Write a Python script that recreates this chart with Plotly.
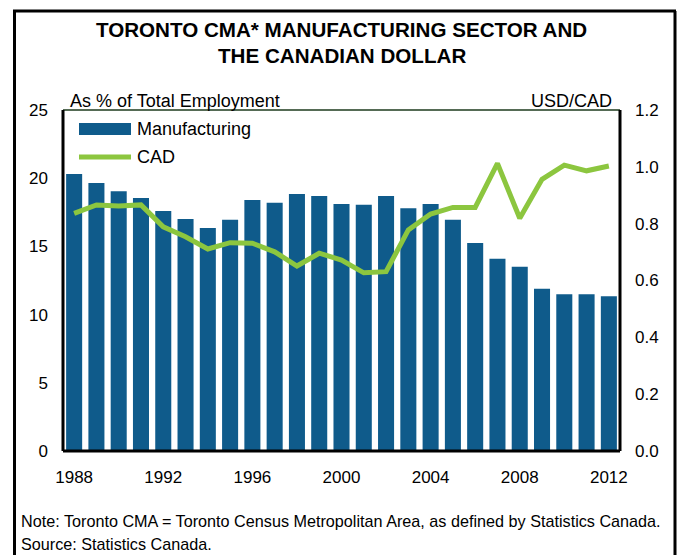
import plotly.graph_objects as go

# Annual data, Toronto CMA
years = list(range(1988, 2013))
manufacturing_share = [20.3, 19.65, 19.05, 18.55, 17.6, 17.0, 16.35, 16.95, 18.4, 18.2,
                       18.85, 18.7, 18.1, 18.05, 18.7, 17.8, 18.1, 16.95, 15.25, 14.1,
                       13.5, 11.9, 11.5, 11.5, 11.35]
usd_per_cad = [0.836, 0.866, 0.862, 0.866, 0.789, 0.754, 0.711, 0.733, 0.731, 0.701,
               0.651, 0.696, 0.672, 0.627, 0.631, 0.778, 0.834, 0.857, 0.857, 1.012,
               0.819, 0.956, 1.006, 0.986, 1.003]

left_ticks = [0, 5, 10, 15, 20, 25]
right_ticks = [0.0, 0.2, 0.4, 0.6, 0.8, 1.0, 1.2]
year_ticks = [1988, 1992, 1996, 2000, 2004, 2008, 2012]

BAR_BLUE = "#0f5b8b"
CAD_GREEN = "#8cc63f"
FONT = "Liberation Sans, Arial, sans-serif"

W, H = 683, 555
L, R, T, B = 63, 620, 110, 451  # plot area in pixels


def px(x):
    return (x - L) / (R - L)


def py(y):
    return (B - y) / (B - T)


fig = go.Figure()
fig.add_trace(go.Bar(x=years, y=manufacturing_share, marker_color=BAR_BLUE,
                     marker_line_width=0, width=0.72, name="Manufacturing",
                     showlegend=False))
fig.add_trace(go.Scatter(x=years, y=usd_per_cad, yaxis="y2", mode="lines",
                         line=dict(color=CAD_GREEN, width=5), name="CAD",
                         showlegend=False))

shapes = []
# outer frame (left, top, right)
for x0, y0, x1, y1 in [(14.5, 11, 14.5, 560), (13, 11, 676, 11), (675, 11, 675, 560)]:
    shapes.append(dict(type="line", xref="paper", yref="paper",
                       x0=px(x0), y0=py(y0), x1=px(x1), y1=py(y1),
                       line=dict(color="black", width=3)))
# plot frame
shapes.append(dict(type="line", xref="paper", yref="paper", x0=0, y0=1, x1=1, y1=1,
                   line=dict(color="#1c3a1c", width=1.5)))
for x0, y0, x1, y1 in [(0, 0, 0, 1), (0, 0, 1, 0), (1, 0, 1, 1)]:
    shapes.append(dict(type="line", xref="paper", yref="paper",
                       x0=x0, y0=y0, x1=x1, y1=y1,
                       line=dict(color="black", width=3)))
# legend keys
shapes.append(dict(type="rect", xref="paper", yref="paper",
                   x0=px(79), x1=px(131), y0=py(135), y1=py(123),
                   fillcolor=BAR_BLUE, line_width=0))
shapes.append(dict(type="line", xref="paper", yref="paper",
                   x0=px(79), x1=px(131), y0=py(157), y1=py(157),
                   line=dict(color=CAD_GREEN, width=5)))

annotations = [
    dict(text="<b>TORONTO CMA* MANUFACTURING SECTOR AND</b>", x=px(341.5), y=py(29),
         font=dict(size=20.6)),
    dict(text="<b>THE CANADIAN DOLLAR</b>", x=px(341.5), y=py(55.5), font=dict(size=20.6)),
    dict(text="As % of Total Employment", x=px(68), y=py(101), xanchor="left",
         font=dict(size=18)),
    dict(text="USD/CAD", x=px(614), y=py(101), xanchor="right", font=dict(size=18)),
    dict(text="Manufacturing", x=px(135), y=py(129), xanchor="left", font=dict(size=18)),
    dict(text="CAD", x=px(135), y=py(157), xanchor="left", font=dict(size=18)),
    dict(text="Note: Toronto CMA = Toronto Census Metropolitan Area, as defined by Statistics Canada.",
         x=px(19), y=py(521), xanchor="left", font=dict(size=16.2)),
    dict(text="Source: Statistics Canada.", x=px(19), y=py(544), xanchor="left",
         font=dict(size=16.2)),
]
for a in annotations:
    a.update(xref="paper", yref="paper", showarrow=False, yanchor="middle")
    a.setdefault("xanchor", "center")
    a["font"].update(color="black", family=FONT)

fig.update_layout(
    width=W, height=H,
    margin=dict(l=L, r=W - R, t=T, b=H - B, pad=0),
    paper_bgcolor="white", plot_bgcolor="white",
    font=dict(family=FONT, color="black", size=17),
    showlegend=False,
    xaxis=dict(range=[1987.5, 2012.5], tickvals=year_ticks, showgrid=False,
               zeroline=False, showline=False, ticks="", ticklabelstandoff=14,
               tickfont=dict(size=17)),
    yaxis=dict(range=[0, 25], tickvals=left_ticks, showgrid=False, zeroline=False,
               showline=False, ticks="", ticklabelstandoff=14, tickfont=dict(size=17)),
    yaxis2=dict(range=[0, 1.2], tickvals=right_ticks, tickformat=".1f", overlaying="y",
                side="right", showgrid=False, zeroline=False, showline=False, ticks="",
                ticklabelstandoff=14, tickfont=dict(size=17)),
    shapes=shapes,
    annotations=annotations,
)

fig.write_html("out.html")
